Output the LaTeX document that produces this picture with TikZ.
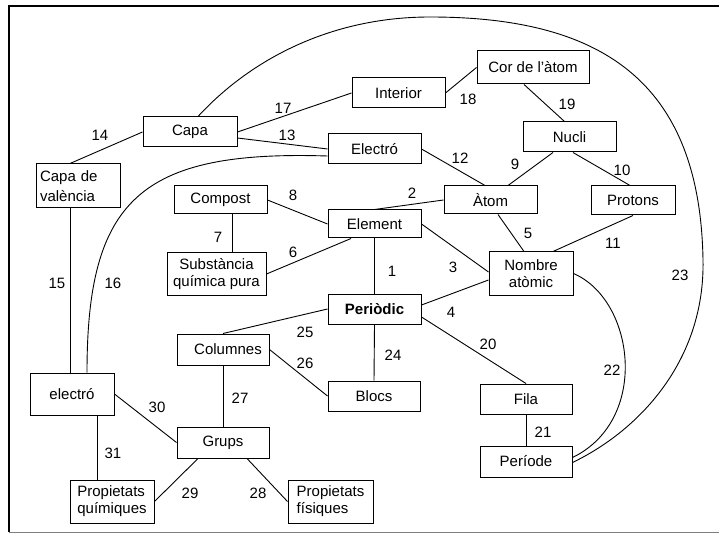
\documentclass[tikz,border=0pt]{standalone}
\usepackage{fontspec}
\setmainfont{Liberation Sans}
\usetikzlibrary{calc}
\definecolor{frame}{HTML}{7F7F7F}

\begin{document}
\begin{tikzpicture}[x=1pt,y=-1pt,
    box/.style={draw,line width=1pt,inner sep=2pt,align=center,font=\fontsize{15}{17}\selectfont},
    lbl/.style={inner sep=0pt,font=\fontsize{15}{17}\selectfont},
    link/.style={line width=0.9pt}]
  \useasboundingbox (0,0) rectangle (719,534);

  % Frame
  \draw[line width=2.5pt] (719,6) -- (9,6) -- (9,532);
  \draw[frame,line width=1pt] (9,532) -- (719,532);

  % Concepts
  \node[box,minimum width=94pt,minimum height=30pt] (capa) at (190,132) {Capa};
  \node[box,minimum width=93pt,minimum height=30pt] (interior) at (398.5,93) {Interior};
  \node[box,minimum width=112pt,minimum height=33pt] (cor) at (533,67.5) {Cor de l'àtom};
  \node[box,minimum width=93pt,minimum height=30pt] (electro) at (374.5,149) {Electró};
  \node[box,minimum width=93pt,minimum height=30pt] (nucli) at (569.5,137) {Nucli};
  \node[box,minimum width=93pt,minimum height=28pt] (atom) at (490.5,200) {Àtom};
  \node[box,minimum width=84pt,minimum height=29pt] (protons) at (633,200.5) {Protons};
  \node[box,minimum width=93pt,minimum height=28pt] (element) at (374.5,224) {Element};
  \node[box,minimum width=93pt,minimum height=28pt] (compost) at (220.5,200) {Compost};
  \node[box,minimum width=99pt,minimum height=42pt] (substancia) at (216.5,274) {Substància\\química pura};
  \node[box,minimum width=84pt,minimum height=43pt] (nombre) at (531,273.5) {Nombre\\atòmic};
  \node[box,minimum width=93pt,minimum height=30pt,font=\fontsize{15}{17}\selectfont\bfseries] (periodic) at (374.5,309) {Periòdic};
  \node[box,minimum width=84pt,minimum height=44pt,align=left,text width=76pt] (valencia) at (78,186) {Capa de\\[3pt]valència};
  \node[box,minimum width=92pt,minimum height=31pt] (columnes) at (223,349.5) {\hspace*{10pt}Columnes};
  \node[box,minimum width=92pt,minimum height=30pt] (blocs) at (374,396) {Blocs};
  \node[box,minimum width=84pt,minimum height=42pt] (electrob) at (72,394) {electró};
  \node[box,minimum width=92pt,minimum height=31pt] (grups) at (223,442.5) {Grups};
  \node[box,minimum width=84pt,minimum height=43pt,align=left] (pquim) at (112,501.5) {Propietats\\químiques};
  \node[box,minimum width=85pt,minimum height=43pt,align=left] (pfis) at (330.5,501.5) {Propietats\\físiques};
  \node[box,minimum width=92pt,minimum height=30pt] (fila) at (526,399) {Fila};
  \node[box,minimum width=92pt,minimum height=31pt] (periode) at (526,461.5) {Període};

  % Straight links
  \draw[link] (capa.west) -- ([xshift=-8pt]valencia.north);
  \draw[link] (capa.east) -- (interior.west);
  \draw[link] ([yshift=-6pt]capa.east) -- (electro.west);
  \draw[link] (interior.east) -- (cor.west);
  \draw[link] ([xshift=-9pt]cor.south) -- ([xshift=-5pt]nucli.north);
  \draw[link] ([xshift=-16.5pt]nucli.south) -- ([xshift=17.5pt]atom.north);
  \draw[link] (electro.east) -- ([xshift=-5.5pt]atom.north);
  \draw[link] ([xshift=3.5pt]nucli.south) -- ([xshift=-3pt]protons.north);
  \draw[link] (atom.west) -- (element.north);
  \draw[link] ([xshift=7.5pt]atom.south) -- ([xshift=-7pt]nombre.north);
  \draw[link] (protons.south) -- ([xshift=22pt]nombre.north);
  \draw[link] (element.east) -- ([yshift=1.5pt]nombre.west);
  \draw[link] (compost.east) -- (element.west);
  \draw[link] ([xshift=12pt]compost.south) -- ([xshift=12pt]compost.south |- substancia.north);
  \draw[link] (substancia.east) -- ([xshift=-23.5pt]element.south);
  \draw[link] (element.south) -- (periodic.north);
  \draw[link] ([yshift=4pt]periodic.east) -- ([yshift=-6.5pt]nombre.west);
  \draw[link] ([yshift=-8pt]periodic.east) -- (fila.north);
  \draw[link] (periodic.south) -- (blocs.north);
  \draw[link] (periodic.west) -- (columnes.north);
  \draw[link] (columnes.east) -- (blocs.west);
  \draw[link] (columnes.south) -- (grups.north);
  \draw[link] (electrob.east) -- (grups.west);
  \draw[link] ([xshift=25pt]electrob.south) -- ([xshift=25pt]electrob.south |- pquim.north);
  \draw[link] ([xshift=-25pt]grups.south) -- (pquim.east);
  \draw[link] ([xshift=24pt]grups.south) -- (pfis.west);
  \draw[link] ([xshift=-8pt]valencia.south) -- ([xshift=-8pt]valencia.south |- electrob.north);
  \draw[link] (fila.south) -- (periode.north);

  % Curved links
  \draw[link] ([xshift=15pt]electrob.north) .. controls (87,200) and (140,150) .. ([yshift=-7pt]electro.west);
  \draw[link] (nombre.east) .. controls (635,300) and (650,420) .. ([yshift=4pt]periode.east);
  \draw[link] ([xshift=8pt]capa.north) .. controls (250,60) and (330,17) .. (430,17)
    .. controls (600,17) and (700,80) .. (703,260)
    .. controls (705,360) and (640,430) .. ([yshift=-1pt]periode.east);

  % Link numbers
  \foreach \n/\x/\y in {14/100/135, 17/283/108, 13/287/135, 18/468/99, 19/567/104,
      12/460/158, 9/515/164, 10/622/170, 2/412/193, 8/293/195, 7/218/237, 6/293/252,
      5/528/233, 11/613/243, 1/392/271, 3/453/267, 23/680/275, 15/57/283, 16/113/283,
      4/451/312, 25/305/332, 20/488/344, 24/393/355, 26/305/363, 22/612/370,
      27/240/398, 30/157/407, 21/543/432, 31/113/453, 29/190/493, 28/258/493}
    \node[lbl] (n\n) at (\x,\y) {\n};
\end{tikzpicture}
\end{document}
